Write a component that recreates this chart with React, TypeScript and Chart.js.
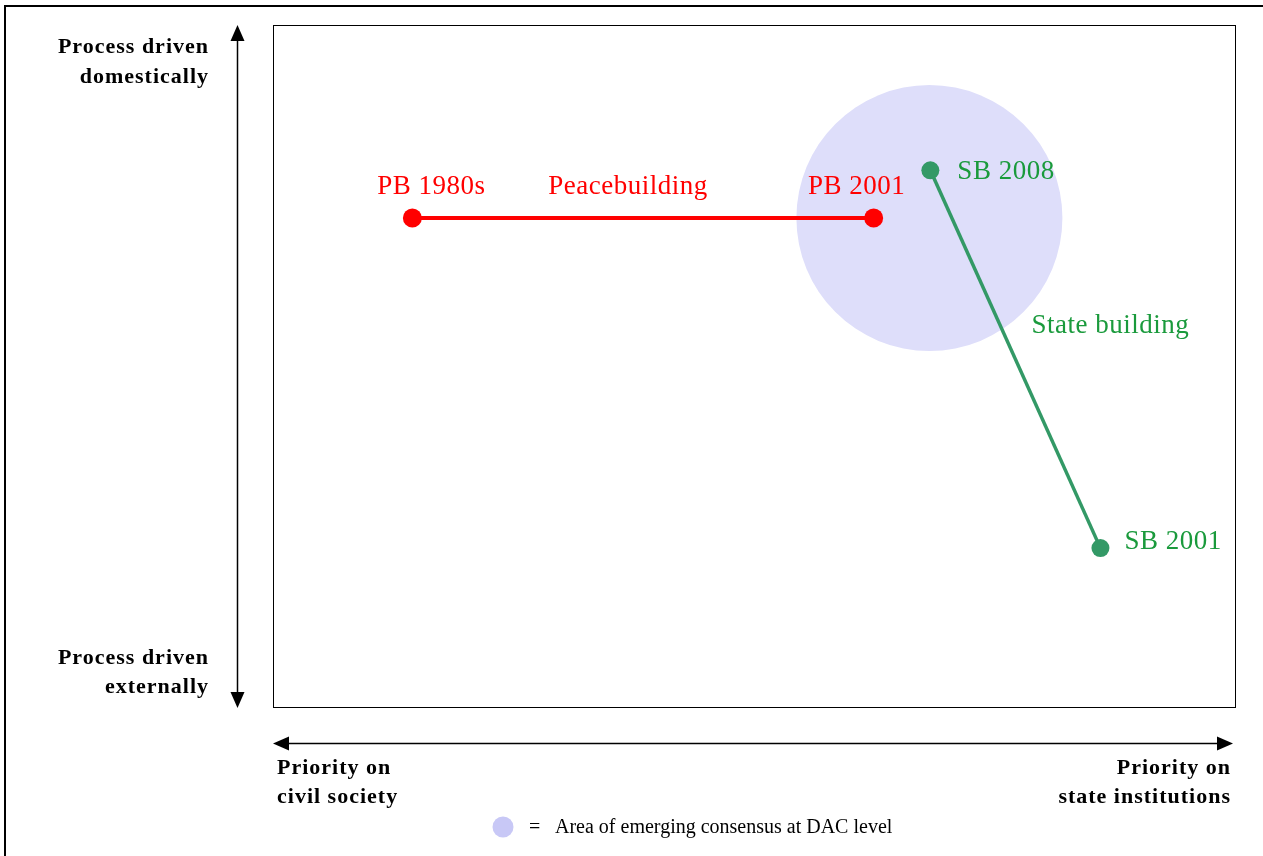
import React, { useEffect, useRef } from "react";
import { Chart, registerables } from "chart.js";

Chart.register(...registerables);

// ---- data ----
const peacebuildingX = [14.4, 62.4];
const peacebuildingY = [71.7, 71.7];
const peacebuildingLabels = ["PB 1980s", "PB 2001"];

const statebuildingX = [68.3, 86.0];
const statebuildingY = [78.7, 23.3];
const statebuildingLabels = ["SB 2008", "SB 2001"];

const consensusX = [68.2];
const consensusY = [71.7];
const consensusRadius = [133];

const seriesNames = ["Peacebuilding", "State building"];
const yAxisTop = ["Process driven", "domestically"];
const yAxisBottom = ["Process driven", "externally"];
const xAxisLeft = ["Priority on", "civil society"];
const xAxisRight = ["Priority on", "state institutions"];
const legendText = "Area of emerging consensus at DAC level";

const RED = "#ff0000";
const GREEN_LINE = "#339966";
const GREEN_TEXT = "#1a9a3c";
const LAVENDER = "rgb(222,222,250)";
const LAVENDER_LEGEND = "rgb(200,200,246)";
const SERIF = '"Liberation Serif", "Times New Roman", serif';

function drawArrowHead(ctx: CanvasRenderingContext2D, x: number, y: number, dir: "up" | "down" | "left" | "right") {
  const L = 16;
  const W = 7;
  ctx.beginPath();
  if (dir === "up") {
    ctx.moveTo(x, y);
    ctx.lineTo(x - W, y + L);
    ctx.lineTo(x + W, y + L);
  } else if (dir === "down") {
    ctx.moveTo(x, y);
    ctx.lineTo(x - W, y - L);
    ctx.lineTo(x + W, y - L);
  } else if (dir === "left") {
    ctx.moveTo(x, y);
    ctx.lineTo(x + L, y - W);
    ctx.lineTo(x + L, y + W);
  } else {
    ctx.moveTo(x, y);
    ctx.lineTo(x - L, y - W);
    ctx.lineTo(x - L, y + W);
  }
  ctx.closePath();
  ctx.fill();
}

const annotationPlugin = {
  id: "annotations",
  afterDatasetsDraw(chart: any) {
    const ctx: CanvasRenderingContext2D = chart.ctx;
    const a = chart.chartArea;
    ctx.save();

    // outer frame (top and left)
    ctx.fillStyle = "#000";
    ctx.fillRect(4, 5, chart.width, 2);
    ctx.fillRect(4, 5, 2, chart.height);

    // plot box
    ctx.strokeStyle = "#000";
    ctx.lineWidth = 1;
    ctx.strokeRect(Math.round(a.left) - 0.5, Math.round(a.top) + 0.5, a.right - a.left + 1, a.bottom - a.top);

    // vertical arrow
    const vx = a.left - 36.5;
    ctx.lineWidth = 1.5;
    ctx.beginPath();
    ctx.moveTo(vx, a.top + 8);
    ctx.lineTo(vx, a.bottom - 8);
    ctx.stroke();
    drawArrowHead(ctx, vx, a.top, "up");
    drawArrowHead(ctx, vx, a.bottom + 1, "down");

    // horizontal arrow
    const hy = a.bottom + 36.5;
    ctx.beginPath();
    ctx.moveTo(a.left + 8, hy);
    ctx.lineTo(a.right - 8, hy);
    ctx.stroke();
    drawArrowHead(ctx, a.left - 1, hy, "left");
    drawArrowHead(ctx, a.right - 2, hy, "right");

    // axis labels
    ctx.fillStyle = "#000";
    ctx.font = `bold 22px ${SERIF}`;
    (ctx as any).letterSpacing = "1px";
    ctx.textBaseline = "alphabetic";
    ctx.textAlign = "right";
    const lx = a.left - 65;
    ctx.fillText(yAxisTop[0], lx, a.top + 28);
    ctx.fillText(yAxisTop[1], lx, a.top + 58);
    ctx.fillText(yAxisBottom[0], lx, a.bottom - 43);
    ctx.fillText(yAxisBottom[1], lx, a.bottom - 14);
    ctx.textAlign = "left";
    ctx.fillText(xAxisLeft[0], a.left + 3, a.bottom + 67);
    ctx.fillText(xAxisLeft[1], a.left + 3, a.bottom + 96);
    ctx.textAlign = "right";
    ctx.fillText(xAxisRight[0], a.right - 4, a.bottom + 67);
    ctx.fillText(xAxisRight[1], a.right - 4, a.bottom + 96);

    // point labels
    ctx.font = `27px ${SERIF}`;
    (ctx as any).letterSpacing = "0.5px";
    const pbMeta = chart.getDatasetMeta(1);
    const sbMeta = chart.getDatasetMeta(2);
    ctx.fillStyle = RED;
    ctx.textAlign = "center";
    const pbOff = [19, -17];
    pbMeta.data.forEach((pt: any, i: number) => {
      ctx.fillText(peacebuildingLabels[i], pt.x + pbOff[i], pt.y - 24);
    });
    const pbMidX = (pbMeta.data[0].x + pbMeta.data[1].x) / 2;
    ctx.fillText(seriesNames[0], pbMidX - 15, pbMeta.data[0].y - 24);

    ctx.fillStyle = GREEN_TEXT;
    ctx.textAlign = "left";
    const sbOffX = [27, 24];
    const sbOffY = [9, 1];
    sbMeta.data.forEach((pt: any, i: number) => {
      ctx.fillText(statebuildingLabels[i], pt.x + sbOffX[i], pt.y + sbOffY[i]);
    });
    const sbMidX = (sbMeta.data[0].x + sbMeta.data[1].x) / 2;
    const sbMidY = (sbMeta.data[0].y + sbMeta.data[1].y) / 2;
    ctx.fillText(seriesNames[1], sbMidX + 16, sbMidY - 26);

    // legend
    const ly = a.bottom + 121;
    ctx.fillStyle = LAVENDER_LEGEND;
    ctx.beginPath();
    ctx.arc(a.left + 229, ly - 1, 10.5, 0, Math.PI * 2);
    ctx.fill();
    ctx.fillStyle = "#000";
    ctx.font = `20px ${SERIF}`;
    (ctx as any).letterSpacing = "0px";
    ctx.textAlign = "left";
    ctx.textBaseline = "middle";
    ctx.fillText("=", a.left + 255, ly);
    ctx.fillText(legendText, a.left + 281, ly);

    ctx.restore();
  },
};

export default function App() {
  const canvasRef = useRef<HTMLCanvasElement | null>(null);

  useEffect(() => {
    const canvas = canvasRef.current;
    if (!canvas) return;
    const chart = new Chart(canvas, {
      type: "scatter",
      data: {
        datasets: [
          {
            type: "bubble",
            label: "Consensus",
            data: consensusX.map((x, i) => ({ x, y: consensusY[i], r: consensusRadius[i] })),
            backgroundColor: LAVENDER,
            borderWidth: 0,
            order: 3,
          } as any,
          {
            type: "line",
            label: seriesNames[0],
            data: peacebuildingX.map((x, i) => ({ x, y: peacebuildingY[i] })),
            borderColor: RED,
            backgroundColor: RED,
            borderWidth: 4,
            pointRadius: 9.5,
            pointBackgroundColor: RED,
            pointBorderWidth: 0,
            showLine: true,
            fill: false,
            order: 2,
          } as any,
          {
            type: "line",
            label: seriesNames[1],
            data: statebuildingX.map((x, i) => ({ x, y: statebuildingY[i] })),
            borderColor: GREEN_LINE,
            backgroundColor: GREEN_LINE,
            borderWidth: 3.5,
            pointRadius: 9,
            pointBackgroundColor: GREEN_LINE,
            pointBorderWidth: 0,
            showLine: true,
            fill: false,
            order: 1,
          } as any,
        ],
      },
      options: {
        responsive: false,
        animation: false,
        layout: { autoPadding: false, padding: { left: 274, top: 25, right: 28, bottom: 149 } },
        scales: {
          x: { type: "linear", min: 0, max: 100, display: false },
          y: { type: "linear", min: 0, max: 100, display: false },
        },
        plugins: {
          legend: { display: false },
          tooltip: { enabled: false },
        },
        events: [],
      },
      plugins: [annotationPlugin],
    });
    return () => chart.destroy();
  }, []);

  return (
    <div style={{ position: "absolute", left: 0, top: 0, width: 1263, height: 856, background: "#fff" }}>
      <canvas ref={canvasRef} width={1263} height={856} style={{ display: "block" }} />
    </div>
  );
}
